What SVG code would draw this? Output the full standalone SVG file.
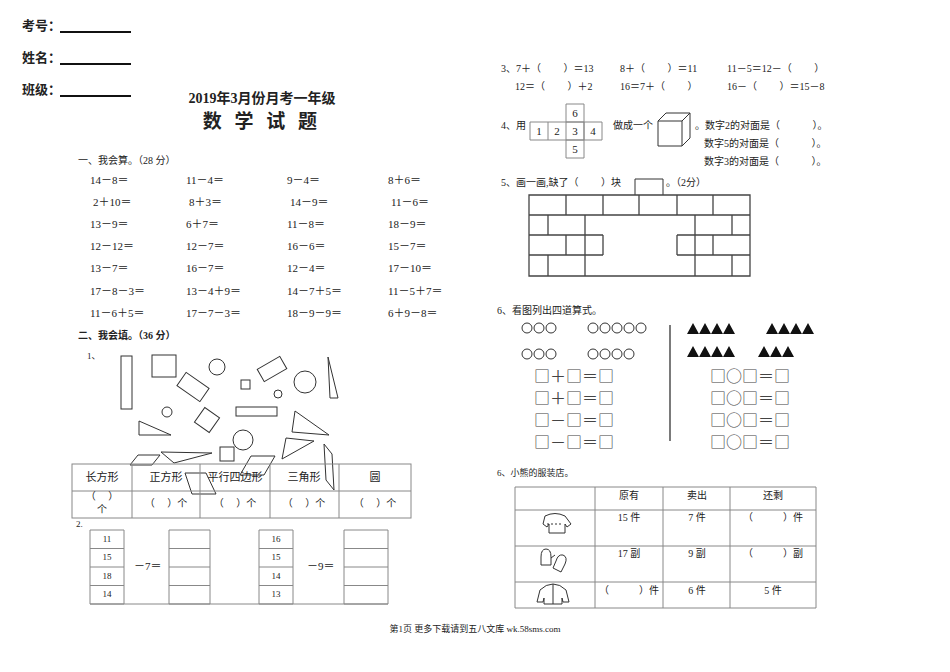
<svg xmlns="http://www.w3.org/2000/svg" width="950" height="672" viewBox="0 0 950 672" font-size="11">
<style>
text{font-family:"Liberation Serif","Noto Sans CJK SC",serif;fill:#222}
.s{fill:none;stroke:#333;stroke-width:1}
.g{fill:none;stroke:#888;stroke-width:1}
.b{font-weight:bold}
.eq{font-family:"Noto Sans CJK SC",sans-serif;fill:#444}
.m{text-anchor:middle}
</style>
<rect width="950" height="672" fill="#fff"/>
<g id="header">
<text x="22" y="30" class="b" font-size="13">考号：</text>
<text x="22" y="62" class="b" font-size="13">姓名：</text>
<text x="22" y="94" class="b" font-size="13">班级：</text>
<path d="M60 32H131M60 64H131M60 96H131" stroke="#111" stroke-width="2"/>
<text x="262" y="103" class="b m" font-size="14">2019年3月份月考一年级</text>
<text x="262" y="128" class="b m" font-size="19" letter-spacing="4">数 学 试 题</text>
</g>
<g id="sec1">
<text x="78" y="164" font-size="10">一、我会算。（28 分）</text>
<g font-size="11">
<text x="90" y="184">14－8＝</text><text x="186" y="184">11－4＝</text><text x="287" y="184">9－4＝</text><text x="388" y="184">8＋6＝</text>
<text x="93" y="206">2＋10＝</text><text x="189" y="206">8＋3＝</text><text x="290" y="206">14－9＝</text><text x="391" y="206">11－6＝</text>
<text x="90" y="228">13－9＝</text><text x="186" y="228">6＋7＝</text><text x="287" y="228">11－8＝</text><text x="388" y="228">18－9＝</text>
<text x="90" y="250">12－12＝</text><text x="186" y="250">12－7＝</text><text x="287" y="250">16－6＝</text><text x="388" y="250">15－7＝</text>
<text x="90" y="272">13－7＝</text><text x="186" y="272">16－7＝</text><text x="287" y="272">12－4＝</text><text x="388" y="272">17－10＝</text>
<text x="90" y="295">17－8－3＝</text><text x="186" y="295">13－4＋9＝</text><text x="287" y="295">14－7＋5＝</text><text x="388" y="295">11－5＋7＝</text>
<text x="90" y="317">11－6＋5＝</text><text x="186" y="317">17－7－3＝</text><text x="287" y="317">18－9－9＝</text><text x="388" y="317">6＋9－8＝</text>
</g>
<text x="78" y="339" class="b" font-size="10">二、我会填。（36 分）</text>
<text x="87" y="359" font-size="9">1、</text>
</g>
<g id="shapes" class="s">
<rect x="121" y="356" width="11" height="53"/>
<rect x="152" y="355" width="24" height="22"/>
<circle cx="217" cy="367" r="8"/>
<rect x="-14" y="-8" width="28" height="16" transform="translate(193,387) rotate(35)"/>
<rect x="241" y="380" width="9" height="9"/>
<rect x="-13" y="-7" width="26" height="14" transform="translate(272,369) rotate(-30)"/>
<circle cx="305" cy="382" r="11"/>
<circle cx="278" cy="394" r="4"/>
<polygon points="328,357 338,398 330,398"/>
<circle cx="167" cy="412" r="5"/>
<rect x="-9" y="-9" width="18" height="18" transform="translate(207,420) rotate(35)"/>
<rect x="236" y="407" width="41" height="9"/>
<polygon points="139,421 171,435 139,435"/>
<polygon points="295,411 329,435 292,432"/>
<circle cx="243" cy="440" r="10"/>
<rect x="220" y="447" width="14" height="14"/>
<polygon points="282,459 286,438 314,441"/>
<polygon points="130,465 138,455 160,455 152,465"/>
<polygon points="161,452 212,453 174,463"/>
<polygon points="240,475 251,456 275,456 264,475"/>
<polygon points="185,473 206,473 216,494 192,494"/>
<polygon points="324,444 332,454 334,490 326,480"/>
</g>
<g id="table1">
<rect x="72" y="464" width="339" height="54" class="g"/>
<path d="M72 491H411M132 464V518M200 464V518M270 464V518M339 464V518" class="g"/>
<text x="102" y="481" class="m">长方形</text><text x="166" y="481" class="m">正方形</text><text x="235" y="481" class="m">平行四边形</text><text x="304" y="481" class="m">三角形</text><text x="375" y="481" class="m">圆</text>
<text x="102" y="500" class="m" font-size="10">（　 ）</text><text x="102" y="513" class="m" font-size="10">个</text>
<text x="166" y="507" class="m" font-size="10">（　 ）个</text><text x="235" y="507" class="m" font-size="10">（　 ）个</text><text x="304" y="507" class="m" font-size="10">（　 ）个</text><text x="375" y="507" class="m" font-size="10">（　 ）个</text>
</g>
<g id="q2">
<text x="76" y="527" font-size="9">2.</text>
<path d="M90 604H388" class="g"/>
<path d="M90 530H124V604H90ZM90 548.5H124M90 567H124M90 585.5H124" class="g"/>
<path d="M169 530H210V604H169ZM169 548.5H210M169 567H210M169 585.5H210" class="g"/>
<path d="M259 530H293V604H259ZM259 548.5H293M259 567H293M259 585.5H293" class="g"/>
<path d="M344 530H388V604H344ZM344 548.5H388M344 567H388M344 585.5H388" class="g"/>
<g font-size="9"><text x="107" y="542" class="m">11</text><text x="107" y="560" class="m">15</text><text x="107" y="579" class="m">18</text><text x="107" y="597" class="m">14</text>
<text x="276" y="542" class="m">16</text><text x="276" y="560" class="m">15</text><text x="276" y="579" class="m">14</text><text x="276" y="597" class="m">13</text></g>
<text x="134" y="570">－7＝</text><text x="307" y="570">－9＝</text>
</g>
<g id="q3" font-size="10">
<text x="501" y="72" font-size="10">3、7＋（　　 ）＝13</text><text x="620" y="72" font-size="10">8＋（　　 ）＝11</text><text x="727" y="72" font-size="10">11－5＝12－（　　 ）</text>
<text x="515" y="90" font-size="10">12＝（　　 ）＋2</text><text x="620" y="90" font-size="10">16＝7＋（　　 ）</text><text x="727" y="90" font-size="10">16－（　　 ）＝15－8</text>
</g>
<g id="q4">
<text x="501" y="129" font-size="10">4、用</text>
<path d="M530 122H602V140H530ZM548 122V140M566 104H584V158H566ZM584 122V140M566 122H584M566 140H584" class="g"/>
<g font-size="11"><text x="539" y="135" class="m">1</text><text x="557" y="135" class="m">2</text><text x="575" y="135" class="m">3</text><text x="593" y="135" class="m">4</text><text x="575" y="117" class="m">6</text><text x="575" y="153" class="m">5</text></g>
<text x="613" y="129" font-size="10">做成一个</text>
<path d="M658 121H682V146H658ZM658 121L666 113H690V138L682 146M682 121L690 113" class="s"/>
<text x="695" y="129" font-size="10">。数字2的对面是（　　　 ）。</text>
<text x="704" y="147" font-size="10">数字5的对面是（　　　 ）。</text>
<text x="704" y="165" font-size="10">数字3的对面是（　　　 ）。</text>
</g>
<g id="q5">
<text x="501" y="186" font-size="10">5、画一画,缺了（　　 ）块</text>
<path d="M635 195V179H663V195" class="s"/>
<text x="666" y="186" font-size="10">。（2分）</text>
<path d="M529 195H750V276H529ZM529 215H750M566 195V215M603 195V215M639 195V215M677 195V215M713 195V215
M548 215V235M585 215V235M695 215V235M732 215V235M585 235V255M695 235V255
M529 235H603M677 235H750M529 255H603M677 255H750M566 235V255M603 235V255M677 235V255M713 235V255
M548 255V276M585 255V276M695 255V276M732 255V276" fill="none" stroke="#444" stroke-width="1.3"/>
</g>
<g id="q6">
<text x="497" y="314" font-size="10">6、看图列出四道算式。</text>
<g class="s" stroke="#555">
<circle cx="527" cy="328" r="5"/><circle cx="539" cy="328" r="5"/><circle cx="551" cy="328" r="5"/>
<circle cx="593" cy="328" r="5"/><circle cx="605" cy="328" r="5"/><circle cx="617" cy="328" r="5"/><circle cx="629" cy="328" r="5"/><circle cx="641" cy="328" r="5"/>
<circle cx="527" cy="354" r="5"/><circle cx="539" cy="354" r="5"/><circle cx="551" cy="354" r="5"/>
<circle cx="593" cy="354" r="5"/><circle cx="605" cy="354" r="5"/><circle cx="617" cy="354" r="5"/><circle cx="629" cy="354" r="5"/>
</g>
<path d="M670 325V441" stroke="#222" stroke-width="1.2"/>
<g fill="#111">
<path d="M687 334l6-11 6 11ZM699 334l6-11 6 11ZM711 334l6-11 6 11ZM723 334l6-11 6 11Z"/>
<path d="M766 334l6-11 6 11ZM778 334l6-11 6 11ZM790 334l6-11 6 11ZM802 334l6-11 6 11Z"/>
<path d="M687 357l6-11 6 11ZM699 357l6-11 6 11ZM711 357l6-11 6 11ZM723 357l6-11 6 11Z"/>
<path d="M758 357l6-11 6 11ZM770 357l6-11 6 11ZM782 357l6-11 6 11Z"/>
</g>
<text x="534" y="382" class="eq" font-size="16">□＋□＝□</text><text x="534" y="404" class="eq" font-size="16">□＋□＝□</text><text x="534" y="426" class="eq" font-size="16">□－□＝□</text><text x="534" y="448" class="eq" font-size="16">□－□＝□</text>
<text x="710" y="382" class="eq" font-size="16">□○□＝□</text><text x="710" y="404" class="eq" font-size="16">□○□＝□</text><text x="710" y="426" class="eq" font-size="16">□○□＝□</text><text x="710" y="448" class="eq" font-size="16">□○□＝□</text>
</g>
<g id="q7">
<text x="497" y="476" font-size="9">6、小熊的服装店。</text>
<path d="M515 487H816V608H515ZM595 487V608M663 487V608M730 487V608M515 510H816M515 546H816M515 582H816" class="g"/>
<g font-size="10"><text x="629" y="499" class="m">原有</text><text x="697" y="499" class="m">卖出</text><text x="773" y="499" class="m">还剩</text>
<text x="629" y="521" class="m">15 件</text><text x="697" y="521" class="m">7 件</text><text x="773" y="521" class="m">（　　　）件</text>
<text x="629" y="557" class="m">17 副</text><text x="697" y="557" class="m">9 副</text><text x="773" y="557" class="m">（　　　）副</text>
<text x="629" y="594" class="m">（　　　）件</text><text x="697" y="594" class="m">6 件</text><text x="773" y="594" class="m">5 件</text></g>
<g class="s" stroke="#222">
<path d="M545 516q10-5 20 0l6 8-4 3-2-3v9h-16v-9l-2 3-4-3z"/><path d="M547 524h16" stroke-dasharray="2 2"/>
<path d="M541 557q0-8 5-8q5 0 5 8v8h-10zM551 558l4-3M556 561q2-7 7-6q5 2 2 9l-4 8-8-4z"/>
<path d="M540 590q6-6 13-6q7 0 13 6l3 12h-6l-1-4v6h-18v-6l-1 4h-6zM553 584v20"/>
</g>
</g>
<text x="475" y="632" class="m" font-size="9">第1页 更多下载请到五八文库 wk.58sms.com</text>
</svg>
